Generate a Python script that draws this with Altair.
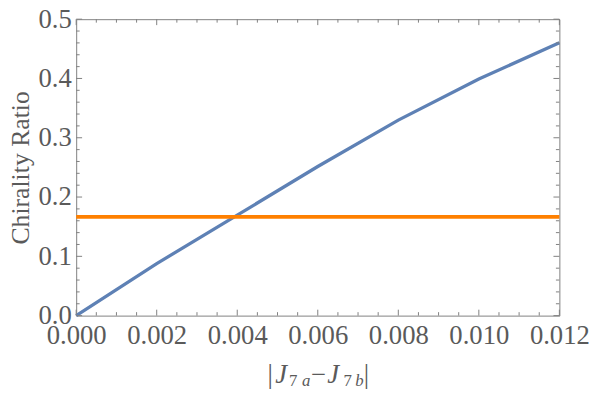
import altair as alt
import pandas as pd
import numpy as np

# ---- data ----
coupling_diff = [0.0, 0.002, 0.004, 0.006, 0.008, 0.010, 0.012]
chirality_ratio = [0.0, 0.0877, 0.1695, 0.2515, 0.3298, 0.3990, 0.4603]
reference_x = [0.0, 0.012]
reference_y = [1 / 6, 1 / 6]

x_major = [0.0, 0.002, 0.004, 0.006, 0.008, 0.010, 0.012]
y_major = [0.0, 0.1, 0.2, 0.3, 0.4, 0.5]
x_minor = [float(v) for v in np.round(np.arange(0, 0.01201, 0.0005), 5) if round(v / 0.002, 6) % 1 != 0]
y_minor = [float(v) for v in np.round(np.arange(0, 0.5001, 0.02), 3) if round(v / 0.1, 6) % 1 != 0]

# ---- layout / style ----
W, H = 489, 300
FONT = "Liberation Serif"
TXT = "#5a5a5a"
FRAME = "#808080"
BLUE = "#5E81B5"
ORANGE = "#FF8000"
MAJ, MIN = 6, 3.5
LBL = 27

xs = alt.Scale(domain=[0, 0.012], nice=False, zero=False)
ys = alt.Scale(domain=[0, 0.5], nice=False, zero=False)

x_axis = alt.Axis(values=x_major, format=".3f", title=None, grid=False,
                  domain=False, ticks=False, labelFont=FONT, labelFontSize=LBL,
                  labelColor=TXT, labelPadding=28.5, labelBaseline="alphabetic",
                  labelFlush=False, labelOverlap=False)
y_axis = alt.Axis(values=y_major, format=".1f", title="Chirality Ratio", grid=False,
                  domain=False, ticks=False, labelFont=FONT,
                  labelFontSize=LBL, labelColor=TXT, labelPadding=5,
                  labelBaseline="middle", labelFlush=False, labelOverlap=False,
                  titleFont=FONT, titleFontSize=26,
                  titleFontWeight="normal", titleColor=TXT, titleX=-48, titleY=H / 2,
                  titleAngle=270, titleAlign="center", titleBaseline="alphabetic")

curve_df = pd.DataFrame({"x": coupling_diff, "y": chirality_ratio})
ref_df = pd.DataFrame({"x": reference_x, "y": reference_y})

curve = alt.Chart(curve_df).mark_line(color=BLUE, strokeWidth=3.3).encode(
    x=alt.X("x:Q", scale=xs, axis=x_axis),
    y=alt.Y("y:Q", scale=ys, axis=y_axis),
)
ref = alt.Chart(ref_df).mark_line(color=ORANGE, strokeWidth=3.8).encode(
    x=alt.X("x:Q", scale=xs, axis=None),
    y=alt.Y("y:Q", scale=ys, axis=None),
)


def xticks(vals, y0, y1):
    return alt.Chart(pd.DataFrame({"v": vals})).mark_rule(color=FRAME, strokeWidth=1).encode(
        x=alt.X("v:Q", scale=xs, axis=None), y=alt.value(y0), y2=alt.value(y1))


def yticks(vals, x0, x1):
    return alt.Chart(pd.DataFrame({"v": vals})).mark_rule(color=FRAME, strokeWidth=1).encode(
        y=alt.Y("v:Q", scale=ys, axis=None), x=alt.value(x0), x2=alt.value(x1))


tick_layers = [
    xticks(x_major, H, H - MAJ), xticks(x_minor, H, H - MIN),
    xticks(x_major, 0, MAJ), xticks(x_minor, 0, MIN),
    yticks(y_major, 0, MAJ), yticks(y_minor, 0, MIN),
    yticks(y_major, W, W - MAJ), yticks(y_minor, W, W - MIN),
]

# x-axis title |J_{7 a} - J_{7 b}| composed of pieces (offsets from plot origin)
MAIN_Y, SUB_Y = 368, 371.5
title_pieces = [
    ("|", 193.5, MAIN_Y, 27, "normal"),
    ("J", 201.5, MAIN_Y, 27, "italic"),
    ("7", 215.5, SUB_Y, 17, "normal"),
    ("a", 228.5, SUB_Y, 17, "italic"),
    ("\u2212", 237.5, MAIN_Y, 27, "normal"),
    ("J", 254, MAIN_Y, 27, "italic"),
    ("7", 270.5, SUB_Y, 17, "normal"),
    ("b", 282.5, SUB_Y, 17, "italic"),
    ("|", 291, MAIN_Y, 27, "normal"),
]
one = pd.DataFrame({"k": [0]})
title_layers = [
    alt.Chart(one).mark_text(text=t, font=FONT, fontSize=s, fontStyle=st, color=TXT,
                             align="left", baseline="alphabetic").encode(
        x=alt.value(px), y=alt.value(py))
    for (t, px, py, s, st) in title_pieces
]

chart = alt.layer(curve, ref, *tick_layers, *title_layers).resolve_axis(
    x="independent", y="independent"
).properties(
    width=W, height=H,
    autosize=alt.AutoSizeParams(type="none"),
    padding={"left": 69, "top": 9, "right": 31, "bottom": 76},
).configure_view(stroke=FRAME, strokeWidth=1)

chart.save("out.html", embed_options={"renderer": "svg", "actions": False})
